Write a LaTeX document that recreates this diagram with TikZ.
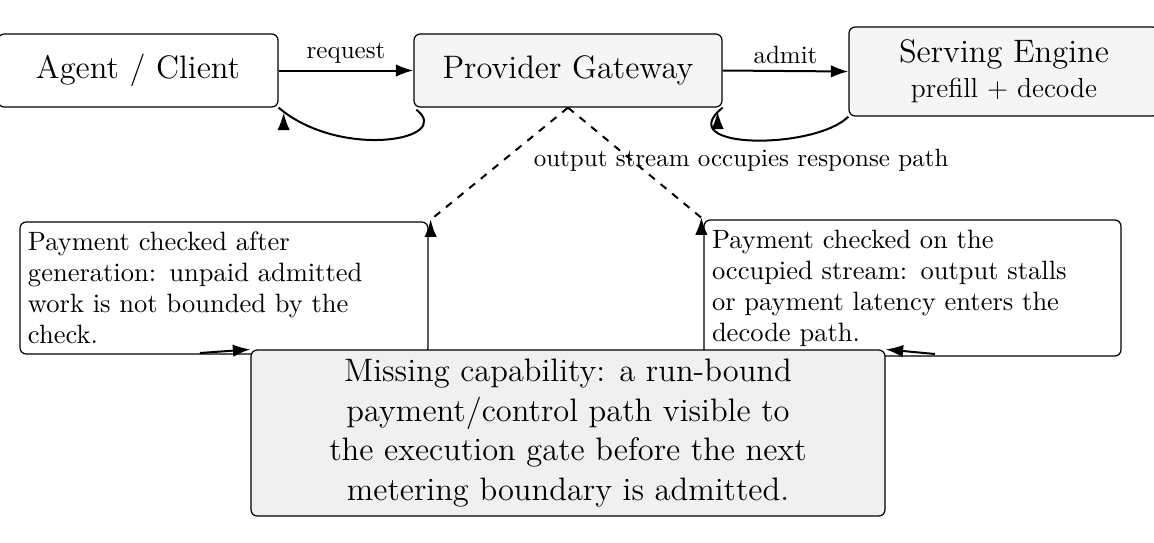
\documentclass[tikz,border=0pt]{standalone}
\usetikzlibrary{arrows.meta}
\begin{document}
\begin{tikzpicture}[x=0.4pt,y=-0.4pt,
  box/.style={draw,rounded corners=2.5pt,line width=0.5pt,inner sep=0pt},
  arr/.style={-{Latex[length=7pt,width=5pt]},line width=0.8pt},
  lab/.style={font=\normalsize}]
\useasboundingbox (0,0) rectangle (1154,542);
\node[box,minimum width=280*0.4pt,minimum height=73*0.4pt,font=\fontsize{13}{16}\selectfont] (ag) at (138,70.5) {Agent / Client};
\node[box,fill=gray!8,minimum width=308*0.4pt,minimum height=73*0.4pt,font=\fontsize{13}{16}\selectfont] (gw) at (568,70.5) {Provider Gateway};
\node[box,fill=gray!8,minimum width=310*0.4pt,minimum height=89*0.4pt,align=center] (se) at (1004,71.5) {{\fontsize{13}{16}\selectfont Serving Engine}\\[2pt]{\fontsize{11}{13}\selectfont prefill + decode}};
\node[box,minimum width=408*0.4pt,minimum height=132*0.4pt,align=left,text width=392*0.4pt,font=\fontsize{10.6}{12.4}\selectfont] (lb) at (224,288) {Payment checked after\\generation: unpaid admitted\\work is not bounded by the\\check.};
\node[box,minimum width=417*0.4pt,minimum height=136*0.4pt,align=left,text width=401*0.4pt,font=\fontsize{10.6}{12.4}\selectfont] (rb) at (912.5,288) {Payment checked on the\\occupied stream: output stalls\\or payment latency enters the\\decode path.};
\node[box,fill=gray!12,minimum width=634*0.4pt,minimum height=166*0.4pt,align=center,font=\fontsize{13}{15.8}\selectfont] (mc) at (568,433) {Missing capability: a run-bound\\payment/control path visible to\\the execution gate before the next\\metering boundary is admitted.};
\draw[arr] (ag.east) -- node[above=-1pt,lab]{request} (gw.west);
\draw[arr] (gw.east) -- node[above=-1pt,lab]{admit} (se.west);
\draw[arr] (gw.south west)++(3,2) .. controls (455,140) and (340,160) .. (ag.south east)++(5,5) coordinate (q1);
\draw[arr] (se.south west) .. controls (815,150) and (670,150) .. (gw.south east)++(-5,4);
\draw[arr,dashed] (gw.south) -- (lb.north east)++(2,-2);
\draw[arr,dashed] (gw.south) -- (rb.north west)++(-2,-2);
\node[lab,anchor=west] (ol) at (525,160) {output stream occupies response path};
\coordinate (l0) at (200,353);
\coordinate (r0) at (935,354);
\draw[arr] (l0) -- (mc.north west);
\draw[arr] (r0) -- (mc.north east);
\end{tikzpicture}
\end{document}
